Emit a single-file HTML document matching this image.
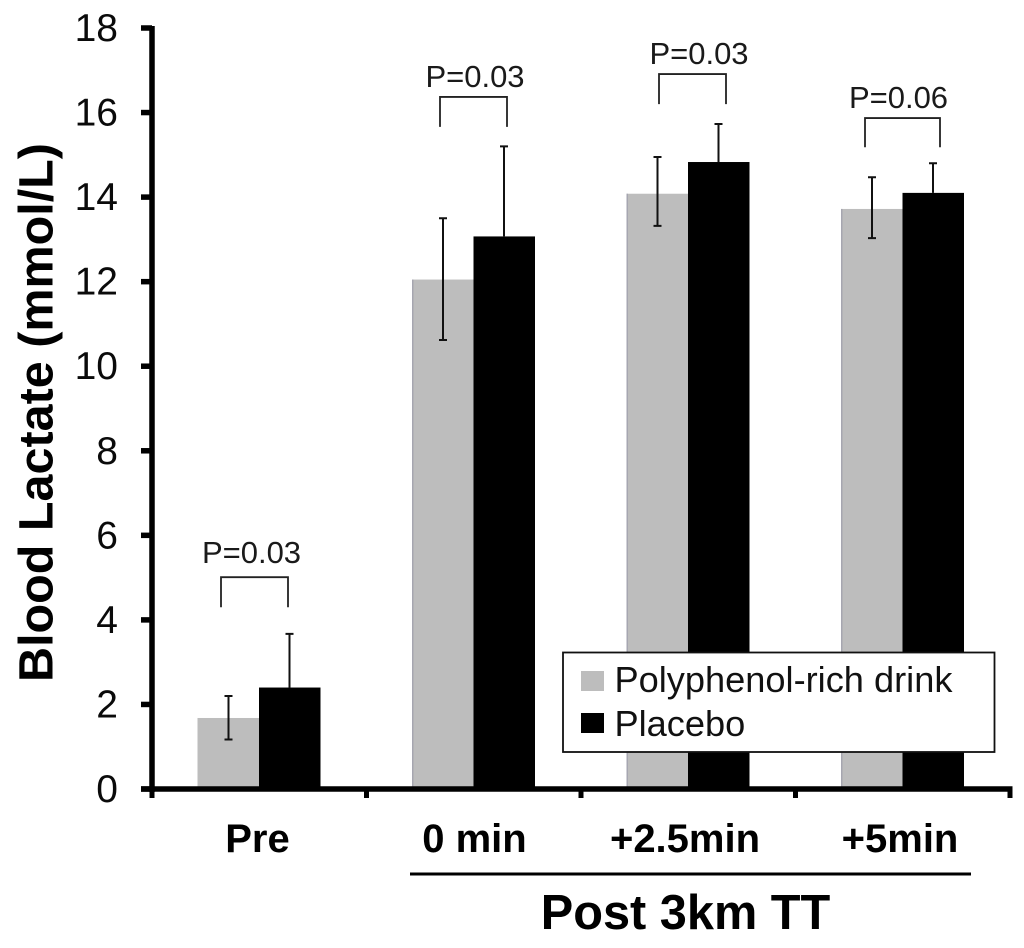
<!DOCTYPE html>
<html>
<head>
<meta charset="utf-8">
<style>
html,body{margin:0;padding:0;background:#fff;}
svg{display:block;font-family:"Liberation Sans",sans-serif;}
</style>
</head>
<body>
<svg id="chart" xmlns="http://www.w3.org/2000/svg" width="1024" height="948" viewBox="0 0 1024 948"></svg>
<script>
const categories = ['Pre', '0 min', '+2.5min', '+5min'];
const polyphenolValues = [1.68, 12.05, 14.08, 13.72];
const placeboValues = [2.4, 13.07, 14.83, 14.1];
const polyphenolHigh = [2.2, 13.5, 14.95, 14.47];
const polyphenolLow = [1.17, 10.62, 13.32, 13.03];
const placeboHigh = [3.67, 15.2, 15.73, 14.8];
const yTicks = [0, 2, 4, 6, 8, 10, 12, 14, 16, 18];
const pLabels = ['P=0.03', 'P=0.03', 'P=0.03', 'P=0.06'];
const bracketTops = [5.01, 16.37, 16.91, 15.87];
const bracketLegs = [0.71, 0.71, 0.71, 0.69];
const bracketLeftShift = [-38.5, -34, -29.5, -38];
const bracketRightShift = [28.5, 33, 37.5, 37];
const pLabelShift = [-8, 1, 10.5, -4.5];
const pLabelGap = [14, 10, 10, 10];
const categoryLabelShift = [-2, 0.5, -3.5, -3];

const svg = document.getElementById('chart');
const NS = 'http://www.w3.org/2000/svg';
const yAt = v => 789 - v * (789 - 28) / 18;
const bandW = 214.5;
const catCenter = i => 259.5 + i * bandW;
const barCenter = i => 259 + i * bandW;
const barW = 61.5;

function make(tag, attrs, text) {
  const el = document.createElementNS(NS, tag);
  for (const k in attrs) el.setAttribute(k, attrs[k]);
  if (text !== undefined) el.textContent = text;
  svg.appendChild(el);
  return el;
}

categories.forEach((c, i) => {
  const cx = catCenter(i);
  const bx = barCenter(i);
  const a = make('rect', {x: bx - barW, y: yAt(polyphenolValues[i]), width: barW, height: 789 - yAt(polyphenolValues[i]), fill: '#bdbdbd'});
  
  
  if (i > 0) {
    const edge = make('rect', {x: bx - barW, y: yAt(polyphenolValues[i]), width: 1.5, height: 789 - yAt(polyphenolValues[i]), fill: '#a6a6b0'});
    
    
  }
  const b = make('rect', {x: bx, y: yAt(placeboValues[i]), width: barW, height: 789 - yAt(placeboValues[i]), fill: '#000'});
  
  

  const gx = cx - 31, px = cx + 30;
  const gTop = yAt(polyphenolHigh[i]), gBot = yAt(polyphenolLow[i]);
  const eg = make('path', {d: `M${gx} ${gTop}V${gBot}M${gx-4} ${gTop}H${gx+4}M${gx-4} ${gBot}H${gx+4}`, stroke: '#111', 'stroke-width': 2, fill: 'none'});
  
  
  const pTop = yAt(placeboHigh[i]), pBot = yAt(placeboValues[i]);
  const ep = make('path', {d: `M${px} ${pTop}V${pBot}M${px-4} ${pTop}H${px+4}`, stroke: '#111', 'stroke-width': 2, fill: 'none'});
  
  

  const lx = cx + bracketLeftShift[i], rx = cx + bracketRightShift[i];
  const t = yAt(bracketTops[i]);
  const legY = yAt(bracketTops[i] - bracketLegs[i]);
  const br = make('path', {d: `M${lx} ${legY}V${t}H${rx}V${legY}`, stroke: '#222', 'stroke-width': 1.8, fill: 'none'});
  
  
  const pt = make('text', {x: cx + pLabelShift[i], y: t - pLabelGap[i], 'text-anchor': 'middle', 'font-size': 31, fill: '#1a1a1a'}, pLabels[i]);
  
  

  const cl = make('text', {x: cx + categoryLabelShift[i], y: 852, 'text-anchor': 'middle', 'font-size': 40, 'font-weight': 'bold', fill: '#000'}, c);
  
  
});

const yAxis = make('line', {x1: 152, y1: 26, x2: 152, y2: 792, stroke: '#000', 'stroke-width': 5.5});


const xAxis = make('line', {x1: 141, y1: 789, x2: 1012.5, y2: 789, stroke: '#000', 'stroke-width': 5.5});



yTicks.forEach(v => {
  const tk = make('line', {x1: 141, y1: yAt(v), x2: 152, y2: yAt(v), stroke: '#000', 'stroke-width': 5.5});
  
  
  const lb = make('text', {x: 118, y: yAt(v) + 13, 'text-anchor': 'end', 'font-size': 39, fill: '#0a0a0a'}, v);
  
  
});
[0, 1, 2, 3, 4].forEach(i => {
  const x = 152 + i * 214.5;
  const tk = make('line', {x1: x, y1: 789, x2: x, y2: 798, stroke: '#000', 'stroke-width': 5});
  
  
});

const yTitle = make('text', {transform: 'translate(52.5,412.5) rotate(-90)', 'text-anchor': 'middle', 'font-size': 48.5, 'font-weight': 'bold', fill: '#000'}, 'Blood Lactate (mmol/L)');



const groupLine = make('line', {x1: 410, y1: 874, x2: 971, y2: 874, stroke: '#000', 'stroke-width': 3});


const groupLabel = make('text', {x: 685.5, y: 929, 'text-anchor': 'middle', 'font-size': 48.7, 'font-weight': 'bold', fill: '#000'}, 'Post 3km TT');



const legendBox = make('rect', {x: 563, y: 652.5, width: 431.5, height: 99.5, fill: '#fff', stroke: '#111', 'stroke-width': 1.8});


const sw1 = make('rect', {x: 581, y: 671, width: 23, height: 20, fill: '#bdbdbd'});


const lt1 = make('text', {x: 614.5, y: 692, 'font-size': 36.2, fill: '#111'}, 'Polyphenol-rich drink');


const sw2 = make('rect', {x: 581, y: 713, width: 23, height: 20, fill: '#000'});


const lt2 = make('text', {x: 614.5, y: 736, 'font-size': 36.2, fill: '#111'}, 'Placebo');


</script>
</body>
</html>
